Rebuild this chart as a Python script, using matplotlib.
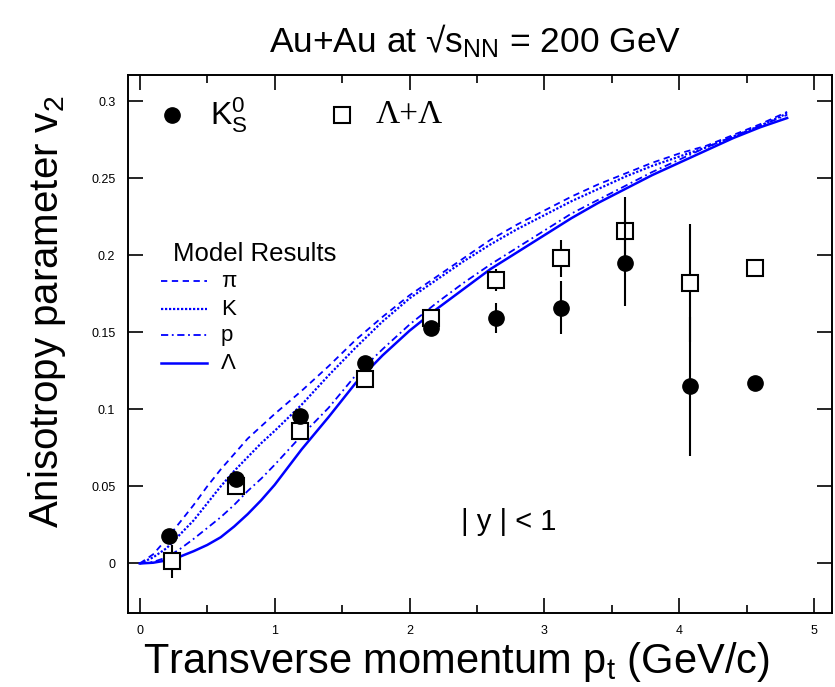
import matplotlib
matplotlib.use('Agg')
import matplotlib.pyplot as plt

plt.rcParams['font.family'] = ['Liberation Sans', 'DejaVu Sans']
plt.rcParams['mathtext.fontset'] = 'custom'
plt.rcParams['mathtext.rm'] = 'Liberation Sans'
plt.rcParams['mathtext.it'] = 'Liberation Sans'

# measured points
pt_k0s = [0.22, 0.71, 1.19, 1.67, 2.16, 2.64, 3.12, 3.60, 4.08, 4.56]
v2_k0s = [0.018, 0.055, 0.096, 0.130, 0.153, 0.159, 0.166, 0.195, 0.115, 0.117]
err_k0s = [0.0, 0.0, 0.0, 0.0, 0.0, 0.0097, 0.017, 0.028, 0.045, 0.0]

pt_lam = [0.24, 0.71, 1.19, 1.67, 2.16, 2.64, 3.12, 3.60, 4.08, 4.56]
v2_lam = [0.0013, 0.0505, 0.086, 0.120, 0.159, 0.184, 0.198, 0.216, 0.182, 0.192]
err_lam = [0.011, 0.0, 0.0, 0.0, 0.0, 0.007, 0.012, 0.022, 0.038, 0.0]

# model curves
pt_model = [0, 0.1, 0.2, 0.3, 0.4, 0.5, 0.6, 0.7, 0.8, 0.9, 1.0, 1.2, 1.4,
            1.6, 1.8, 2.0, 2.2, 2.4, 2.6, 2.8, 3.0, 3.2, 3.4, 3.6, 3.8, 4.0,
            4.2, 4.4, 4.6, 4.8]
v2_pion = [0, 0.006, 0.016, 0.027, 0.038, 0.050, 0.061, 0.071, 0.081, 0.089,
           0.097, 0.112, 0.128, 0.145, 0.160, 0.174, 0.186, 0.198, 0.210,
           0.220, 0.229, 0.238, 0.246, 0.253, 0.260, 0.266, 0.271, 0.278,
           0.285, 0.293]
v2_kaon = [0, 0.004, 0.010, 0.019, 0.028, 0.039, 0.050, 0.060, 0.069, 0.078,
           0.086, 0.103, 0.122, 0.140, 0.157, 0.172, 0.184, 0.196, 0.207,
           0.217, 0.226, 0.235, 0.243, 0.251, 0.258, 0.264, 0.270, 0.277,
           0.284, 0.292]
v2_proton = [0, 0.001, 0.004, 0.0095, 0.016, 0.023, 0.030, 0.038, 0.047,
             0.055, 0.064, 0.083, 0.101, 0.122, 0.139, 0.155, 0.169, 0.182,
             0.194, 0.205, 0.216, 0.227, 0.236, 0.245, 0.254, 0.262, 0.270,
             0.277, 0.284, 0.291]
v2_lambda = [0, 0.0005, 0.002, 0.0045, 0.008, 0.012, 0.017, 0.024, 0.032,
             0.041, 0.051, 0.074, 0.095, 0.117, 0.135, 0.151, 0.165, 0.178,
             0.191, 0.202, 0.213, 0.224, 0.234, 0.243, 0.252, 0.260, 0.268,
             0.276, 0.283, 0.289]

model_names = ['\u03c0', 'K', 'p', '\u039b']
model_styles = [(0, (3.5, 2.5)), (0, (1, 0.8)), (0, (4, 2, 1, 2)), '-']
model_widths = [1.3, 1.6, 1.3, 1.8]

fig = plt.figure(figsize=(8.35, 6.87), dpi=100)
ax = fig.add_axes([0.153, 0.108, 0.843, 0.783])

blue = '#0000ff'
for v2, ls, lw in zip([v2_pion, v2_kaon, v2_proton, v2_lambda], model_styles, model_widths):
    ax.plot(pt_model, v2, color=blue, linestyle=ls, linewidth=lw)

ax.errorbar(pt_lam, v2_lam, yerr=err_lam, fmt='s', color='black', ms=11,
            mfc='white', mec='black', mew=1.5, elinewidth=1.5, capsize=0, zorder=5)
ax.errorbar(pt_k0s, v2_k0s, yerr=err_k0s, fmt='o', color='black', ms=11,
            elinewidth=1.5, capsize=0, zorder=6)

ax.set_xlim(-0.089, 5.13)
ax.set_ylim(-0.032, 0.317)
ax.set_xticks([0, 1, 2, 3, 4, 5])
ax.set_xticks([0.5, 1.5, 2.5, 3.5, 4.5], minor=True)
ax.set_yticks([0, 0.05, 0.1, 0.15, 0.2, 0.25, 0.3])
ax.set_yticklabels(['0', '0.05', '0.1', '0.15', '0.2', '0.25', '0.3'])
ax.tick_params(which='both', direction='in', top=True, right=True, labelsize=9)
ax.tick_params(which='major', length=10.5, width=1.2, pad=9)
ax.tick_params(which='minor', length=5.5, width=1.2)
for sp in ax.spines.values():
    sp.set_linewidth(1.4)

fig.text(0.547, 0.037, 'Transverse momentum p$_{\\rm t}$ (GeV/c)', fontsize=30,
         ha='center', va='center')
fig.text(0.056, 0.546, 'Anisotropy parameter v$_{\\rm 2}$', fontsize=29,
         ha='center', va='center', rotation=90)
fig.text(0.569, 0.94, 'Au+Au at \u221as$_{\\rm NN}$ = 200 GeV', fontsize=25.5,
         ha='center', va='center')

# data legend
ax.plot([0.24], [0.291], 'o', color='black', ms=11)
ax.text(0.52, 0.291, 'K$^0_{\\rm S}$', fontsize=23, va='center')
ax.plot([1.5], [0.291], 's', mfc='white', mec='black', mew=1.5, ms=11)
ax.text(1.75, 0.291, '\u039b+\u039b', fontsize=24, va='center', family='Liberation Serif')

# model legend
ax.text(0.25, 0.201, 'Model Results', fontsize=18.5, va='center')
leg_y = [0.183, 0.165, 0.148, 0.130]
for name, ls, lw, y in zip(model_names, model_styles, model_widths, leg_y):
    ax.plot([0.16, 0.5], [y, y], color=blue, linestyle=ls, linewidth=lw)
    ax.text(0.6, y, name, fontsize=16, va='center')

ax.text(2.38, 0.027, '| y | < 1', fontsize=21, va='center')

fig.savefig('out.png', dpi=100)
